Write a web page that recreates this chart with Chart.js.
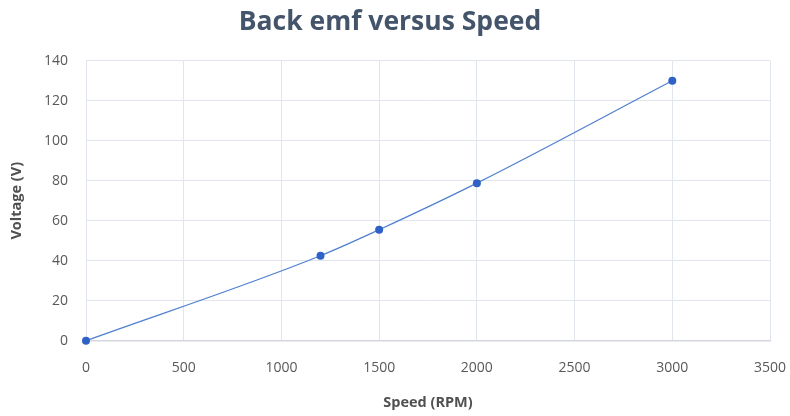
<!DOCTYPE html>
<html>
<head>
<meta charset="utf-8">
<script src="https://cdn.jsdelivr.net/npm/chart.js@4/dist/chart.umd.min.js"></script>
<style>
  html, body { margin: 0; padding: 0; background: #fff; }
  #wrap { width: 790px; height: 416px; }
</style>
</head>
<body>
<div id="wrap"><canvas id="emfChart"></canvas></div>
<script>
// speed (RPM) and back emf (V)
const speeds = [0, 1200, 1500, 2000, 3000];
const voltages = [0, 42.5, 55.5, 78.8, 130];
const xTicks = [0, 500, 1000, 1500, 2000, 2500, 3000, 3500];
const yTicks = [0, 20, 40, 60, 80, 100, 120, 140];

const points = speeds.map((s, i) => ({ x: s, y: voltages[i] }));
const gridColor = '#e1e5ec';
const tickColor = '#595959';

new Chart(document.getElementById('emfChart'), {
  type: 'scatter',
  data: {
    datasets: [{
      label: 'Back emf',
      data: points,
      showLine: true,
      borderColor: '#4f7fd0',
      borderWidth: 1.2,
      backgroundColor: '#2e62c6',
      pointBackgroundColor: '#2e62c6',
      pointBorderWidth: 0,
      pointRadius: 4,
      cubicInterpolationMode: 'monotone',
      clip: false
    }]
  },
  options: {
    responsive: true,
    maintainAspectRatio: false,
    animation: false,
    layout: { padding: { top: 7, right: 20, bottom: 6, left: 10 } },
    plugins: {
      legend: { display: false },
      tooltip: { enabled: false },
      title: {
        display: true,
        text: 'Back emf versus Speed',
        color: '#44546a',
        font: { family: 'Open Sans', size: 26.5, weight: 'bold' },
        padding: { top: 0, bottom: 22 }
      }
    },
    scales: {
      x: {
        type: 'linear',
        min: 0,
        max: 3500,
        afterBuildTicks: axis => { axis.ticks = xTicks.map(v => ({ value: v })); },
        // keep the plot running out to the right edge like the original
        afterFit: axis => { axis.paddingRight = 0; },
        grid: { color: gridColor, drawTicks: false },
        border: { color: '#d4d8de', width: 1.5 },
        ticks: {
          color: tickColor,
          font: { family: 'Open Sans', size: 14 },
          padding: 19,
          callback: v => String(v)
        },
        title: {
          display: true,
          text: 'Speed (RPM)',
          color: '#505050',
          font: { family: 'Open Sans', size: 14.5, weight: 'bold', lineHeight: 1 },
          padding: { top: 0, bottom: 0 }
        }
      },
      y: {
        min: 0,
        max: 140,
        afterBuildTicks: axis => { axis.ticks = yTicks.map(v => ({ value: v })); },
        afterFit: axis => { axis.width = 76; },
        grid: { color: gridColor, drawTicks: false },
        border: { color: gridColor },
        ticks: {
          color: tickColor,
          font: { family: 'Open Sans', size: 14 },
          padding: 18,
          callback: v => String(v)
        },
        title: {
          display: true,
          text: 'Voltage (V)',
          color: '#505050',
          font: { family: 'Open Sans', size: 14.5, weight: 'bold', lineHeight: 1 },
          padding: { top: 0, bottom: 0 }
        }
      }
    }
  }
});
</script>
</body>
</html>
